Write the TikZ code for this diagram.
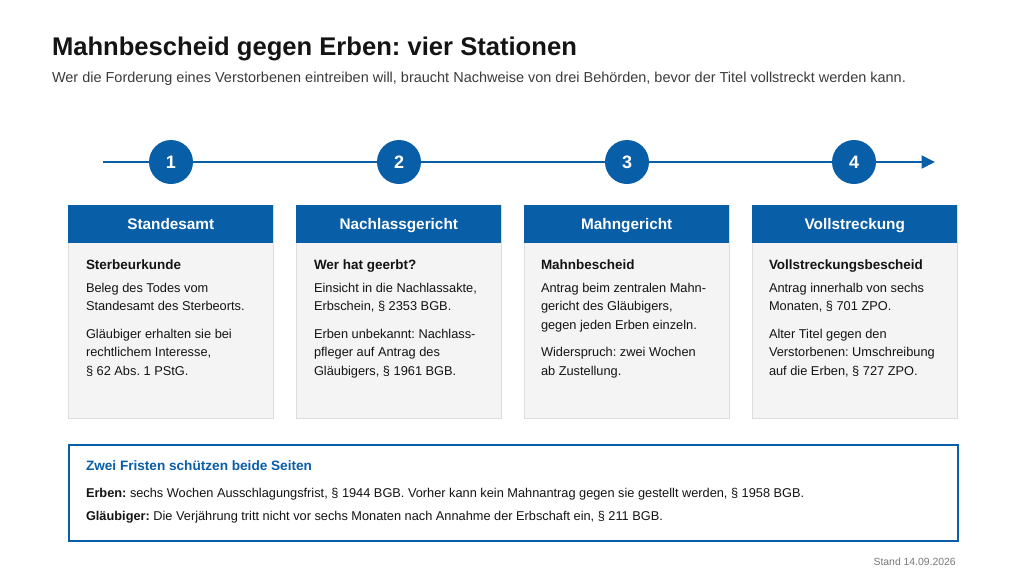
\documentclass[tikz,border=0pt]{standalone}
\usepackage{fontspec}
\setmainfont{Liberation Sans}
\usetikzlibrary{arrows.meta}
\frenchspacing
\definecolor{blu}{RGB}{9,94,168}
\definecolor{cardgray}{RGB}{244,244,244}
\definecolor{cardline}{RGB}{221,221,221}
\definecolor{txt}{RGB}{20,20,20}
\definecolor{subtxt}{RGB}{60,60,60}
\definecolor{foot}{RGB}{120,120,120}
\tikzset{
  txtnode/.style={inner sep=0pt, outer sep=0pt, anchor=base west, align=left, text=txt},
  titletxt/.style={txtnode, font=\fontsize{19.2}{22}\selectfont\bfseries},
  subtitletxt/.style={txtnode, text=subtxt, font=\fontsize{10.86}{14}\selectfont},
  tline/.style={draw=blu, line width=1.9pt},
  stepcircle/.style={circle, fill=blu, minimum size=33pt, inner sep=0pt, text=white, font=\fontsize{13.5}{16}\selectfont\bfseries},
  cardbody/.style={draw=cardline, fill=cardgray, line width=0.6pt, anchor=north west, minimum width=153.75pt, minimum height=160pt, inner sep=0pt},
  cardhead/.style={fill=blu, anchor=north west, minimum width=153.75pt, minimum height=28.5pt, inner sep=0pt, text height=8.2pt, text depth=0pt, text=white, font=\fontsize{11.5}{14}\selectfont\bfseries},
  cardtitle/.style={txtnode, font=\fontsize{10.1}{13.8}\selectfont\bfseries},
  cardtxt/.style={txtnode, font=\fontsize{9.6}{13.8}\selectfont},
  notebox/.style={draw=blu, fill=white, line width=1.5pt, anchor=north west, minimum width=666.75pt, minimum height=72pt, inner sep=0pt},
  notetitle/.style={txtnode, text=blu, font=\fontsize{10.2}{14}\selectfont\bfseries},
  notetxt/.style={txtnode, font=\fontsize{9.58}{14}\selectfont},
  foottxt/.style={inner sep=0pt, anchor=base east, text=foot, font=\fontsize{7.8}{10}\selectfont}
}
\begin{document}
\begin{tikzpicture}[x=0.75pt,y=-0.75pt]
\useasboundingbox[fill=white] (0,0) rectangle (1024,576);

% title
\node[titletxt] (title) at (52,55.7) {Mahnbescheid gegen Erben: vier Stationen};
\node[subtitletxt] (subtitle) at (52,82.3) {Wer die Forderung eines Verstorbenen eintreiben will, braucht Nachweise von drei Behörden, bevor der Titel vollstreckt werden kann.};

% timeline
\coordinate (tlstart) at (103,162);
\coordinate (tlend) at (935,162);
\draw[tline, -{Triangle[length=10pt, width=9.5pt]}] (tlstart) -- (tlend);
\node[stepcircle] (n1) at (171,162) {1};
\node[stepcircle] (n2) at (399,162) {2};
\node[stepcircle] (n3) at (627,162) {3};
\node[stepcircle] (n4) at (854,162) {4};

% cards
\node[cardbody] (b1) at (68,205) {};
\node[cardbody] (b2) at (296,205) {};
\node[cardbody] (b3) at (524,205) {};
\node[cardbody] (b4) at (752,205) {};
\node[cardhead] (h1) at (68,205) {Standesamt};
\node[cardhead] (h2) at (296,205) {Nachlassgericht};
\node[cardhead] (h3) at (524,205) {Mahngericht};
\node[cardhead] (h4) at (752,205) {Vollstreckung};

% card 1 (anchors at last line baseline)
\node[cardtitle] (t1) at (86,269.5) {Sterbeurkunde};
\node[cardtxt] (p1a) at (86,310.7) {Beleg des Todes vom\\Standesamt des Sterbeorts.};
\node[cardtxt] (p1b) at (86,375.1) {Gläubiger erhalten sie bei\\rechtlichem Interesse,\\§ 62 Abs. 1 PStG.};

% card 2
\node[cardtitle] (t2) at (314,269.5) {Wer hat geerbt?};
\node[cardtxt] (p2a) at (314,310.7) {Einsicht in die Nachlassakte,\\Erbschein, § 2353 BGB.};
\node[cardtxt] (p2b) at (314,375.1) {Erben unbekannt: Nachlass-\\pfleger auf Antrag des\\Gläubigers, § 1961 BGB.};

% card 3
\node[cardtitle] (t3) at (541,269.5) {Mahnbescheid};
\node[cardtxt] (p3a) at (541,329.1) {Antrag beim zentralen Mahn-\\gericht des Gläubigers,\\gegen jeden Erben einzeln.};
\node[cardtxt] (p3b) at (541,375.1) {Widerspruch: zwei Wochen\\ab Zustellung.};

% card 4
\node[cardtitle] (t4) at (769,269.5) {Vollstreckungsbescheid};
\node[cardtxt] (p4a) at (769,310.7) {Antrag innerhalb von sechs\\Monaten, § 701 ZPO.};
\node[cardtxt] (p4b) at (769,375.1) {Alter Titel gegen den\\Verstorbenen: Umschreibung\\auf die Erben, § 727 ZPO.};

% note box
\node[notebox] (note) at (68,443.5) {};
\node[notetitle] (nt) at (86,470.7) {Zwei Fristen schützen beide Seiten};
\node[notetxt] (nl1) at (86,497.3) {\textbf{Erben:} sechs Wochen Ausschlagungsfrist, § 1944 BGB. Vorher kann kein Mahnantrag gegen sie gestellt werden, § 1958 BGB.};
\node[notetxt] (nl2) at (86,520.7) {\textbf{Gläubiger:} Die Verjährung tritt nicht vor sechs Monaten nach Annahme der Erbschaft ein, § 211 BGB.};

% footer
\node[foottxt] (footer) at (956,565) {Stand 14.09.2026};
\end{tikzpicture}
\end{document}
